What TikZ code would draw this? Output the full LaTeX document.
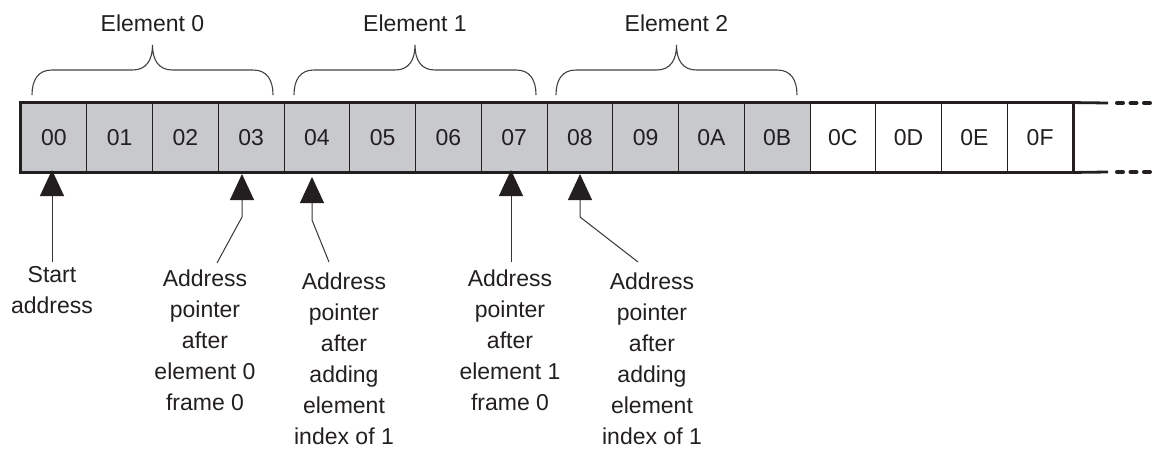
\documentclass[tikz,border=0pt]{standalone}
\usepackage{fontspec}
\setmainfont{Liberation Sans}
\usetikzlibrary{arrows.meta}
\definecolor{cellgray}{RGB}{200,201,204}
\definecolor{ink}{RGB}{35,31,32}
\begin{document}
\begin{tikzpicture}[x=1pt,y=-1pt,
  txt/.style={text=ink,font=\fontsize{23}{31}\selectfont,inner sep=0pt},
  lab/.style={txt,align=center,anchor=north},
  cell/.style={txt,draw=ink,line width=0.9pt,minimum width=65.75pt,minimum height=69pt},
  frame/.style={draw=ink,line width=2.8pt},
  brace/.style={draw=ink!85,line width=1.1pt},
  ptr/.style={draw=ink!90,line width=1pt,-{Triangle[width=24pt,length=26pt,color=ink]}},
  dashline/.style={draw=ink,line width=4pt,line cap=round,dash pattern=on 6pt off 7.5pt}]
\useasboundingbox (0,0) rectangle (1152,451);
% cells
\foreach \i/\t in {0/00,1/01,2/02,3/03,4/04,5/05,6/06,7/07,8/08,9/09,10/0A,11/0B}
  \node[cell,fill=cellgray] (c\i) at ({21+(\i+0.5)*65.75},137.5) {\t};
\foreach \i/\t in {12/0C,13/0D,14/0E,15/0F}
  \node[cell,fill=white] (c\i) at ({21+(\i+0.5)*65.75},137.5) {\t};
\draw[frame] (c0.north west) rectangle (c15.south east);
\coordinate (te) at (1108,103);
\coordinate (be) at (1108,172);
\draw[frame] (c15.north east) -- (te);
\draw[frame] (c15.south east) -- (be);
\coordinate (td1) at (1117,103); \coordinate (td2) at (1150,103);
\coordinate (bd1) at (1117,172); \coordinate (bd2) at (1150,172);
\draw[dashline] (td1) -- (td2);
\draw[dashline] (bd1) -- (bd2);
% braces
\foreach \a/\b/\n/\lbl in {32/273/e0/Element 0, 294/536/e1/Element 1, 556/797/e2/Element 2}{
  \pgfmathsetmacro{\m}{(\a+\b)/2}
  \node[txt] (\n) at (\m,23) {\lbl};
  \draw[brace] (\a,95) .. controls (\a,80) and ({\a+6},70) .. ({\a+20},70)
     -- ({\m-20},70) .. controls ({\m-6},70) and (\m,60) .. (\m,45)
     .. controls (\m,60) and ({\m+6},70) .. ({\m+20},70)
     -- ({\b-20},70) .. controls ({\b-6},70) and (\b,80) .. (\b,95);
}
% labels
\node[lab,anchor=north] (l0) at (52,266) {Start\\address};
\node[lab] (l1) at (205,270) {Address\\pointer\\after\\element 0\\frame 0};
\node[lab] (l2) at (344,273) {Address\\pointer\\after\\adding\\element\\index of 1};
\node[lab] (l3) at (510,270) {Address\\pointer\\after\\element 1\\frame 0};
\node[lab] (l4) at (652,273) {Address\\pointer\\after\\adding\\element\\index of 1};
% pointers
\coordinate (s0) at (52,262);  \coordinate (t0) at (52,170);
\coordinate (s1) at (217,263); \coordinate (b1) at (242,217); \coordinate (t1) at (242,174);
\coordinate (s2) at (329,262); \coordinate (b2) at (312,220); \coordinate (t2) at (312,177);
\coordinate (s3) at (511,262); \coordinate (t3) at (511,170);
\coordinate (s4) at (638,262); \coordinate (b4) at (580,217); \coordinate (t4) at (580,174);
\draw[ptr] (s0) -- (t0);
\draw[ptr] (s1) -- (b1) -- (t1);
\draw[ptr] (s2) -- (b2) -- (t2);
\draw[ptr] (s3) -- (t3);
\draw[ptr] (s4) -- (b4) -- (t4);
\end{tikzpicture}
\end{document}
